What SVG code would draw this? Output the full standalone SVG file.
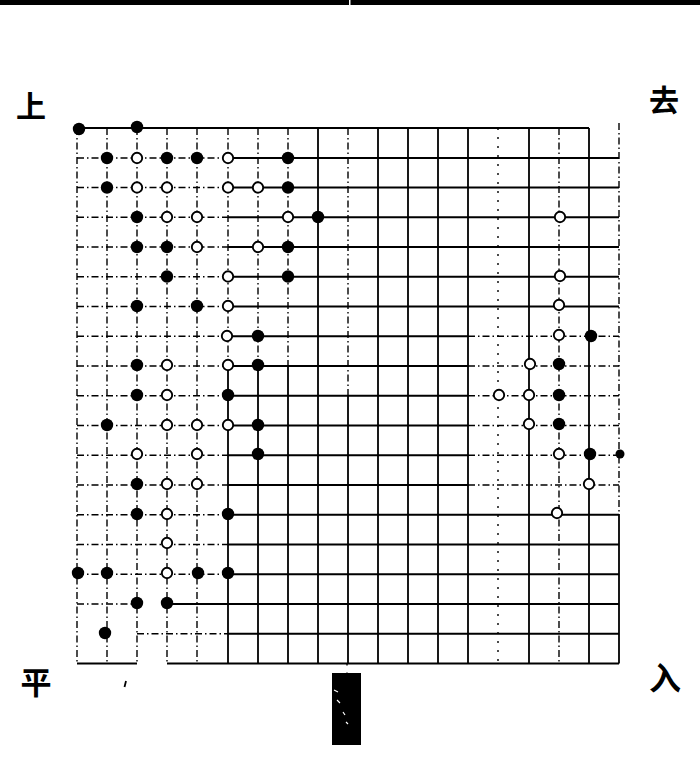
<svg xmlns="http://www.w3.org/2000/svg" width="700" height="763" viewBox="0 0 700 763">
<style>
.s{stroke:#000;stroke-width:1.8;fill:none}
.d{stroke:#000;stroke-width:1.4;fill:none;stroke-dasharray:7 3 1.5 3}
.t{stroke:#000;stroke-width:1.4;fill:none;stroke-dasharray:2 7}
.lab{font-family:"Noto Sans CJK SC","Noto Sans CJK JP",sans-serif;font-weight:700;fill:#000;text-anchor:middle}
</style>
<defs>
<circle id="b" r="6.2" fill="#000"/>
<circle id="w" r="5.2" fill="#fff" stroke="#000" stroke-width="1.9"/>
</defs>
<rect id="topbar" x="0" y="0" width="700" height="5" fill="#000"/>
<rect x="349" y="0" width="1.5" height="5" fill="#fff"/>
<g id="grid">
<!-- horizontal lines -->
<path class="s" d="M77 128H589"/>
<path class="d" d="M77 158H228M77 187.5H228M77 217.25H228M77 247H228M77 276.75H228M77 306.5H228M77 336.25H228M77 366H228M77 395.75H228M77 425.5H228M77 455.25H228M77 485H228M77 514.75H228M77 544.5H228M77 574.25H228M77 604H137M137 633.75H228"/>
<path class="s" d="M228 158H619M228 187.5H619M228 217.25H619M228 247H619M228 276.75H619M228 306.5H619M228 336.25H468M228 366H468M228 395.75H468M228 425.5H468M228 455.25H468M228 485H468M228 514.75H619M228 544.5H619M228 574.25H619M167 604H619M228 633.75H619M77 663.5H137M167 663.5H619"/>
<path class="d" d="M468 336.25H619M468 366H619M468 395.75H619M468 425.5H619M468 455.25H619M468 485H619"/>
<!-- vertical lines -->
<path class="d" d="M77 128V663.5M107 128V663.5M137 128V663.5M167 128V663.5M197 128V663.5M228 128V366M258 128V366M288 128V366M348 128V396M559 128V663.5M619 123V514"/>
<path class="s" d="M228 366V663.5M258 366V663.5M288 366V663.5M318 128V663.5M348 396V663.5M378 128V663.5M408 128V663.5M438 128V663.5M468 128V663.5M529 128V663.5M589 128V663.5M619 514V663.5"/>
<path class="t" d="M498 128V663.5M347 663.5V673"/>
</g>
<g id="black-stones">
<use href="#b" x="79" y="129"/><use href="#b" x="137" y="127"/>
<use href="#b" x="107" y="158"/><use href="#b" x="167" y="158"/><use href="#b" x="197" y="158"/><use href="#b" x="288" y="158"/>
<use href="#b" x="107" y="187.5"/><use href="#b" x="288" y="187.5"/>
<use href="#b" x="137" y="217"/><use href="#b" x="318" y="217"/>
<use href="#b" x="137" y="247"/><use href="#b" x="167" y="247"/><use href="#b" x="288" y="247"/>
<use href="#b" x="167" y="276.5"/><use href="#b" x="288" y="276.5"/>
<use href="#b" x="137" y="306"/><use href="#b" x="197" y="306"/>
<use href="#b" x="258" y="336"/>
<use href="#b" x="137" y="365"/><use href="#b" x="258" y="365"/>
<use href="#b" x="137" y="395"/><use href="#b" x="228" y="395"/>
<use href="#b" x="107" y="425"/><use href="#b" x="258" y="425"/>
<use href="#b" x="258" y="454"/>
<use href="#b" x="137" y="484"/>
<use href="#b" x="137" y="514"/><use href="#b" x="228" y="514"/>
<use href="#b" x="78" y="573"/><use href="#b" x="107" y="573"/><use href="#b" x="198" y="573"/><use href="#b" x="228" y="573"/>
<use href="#b" x="137" y="603"/><use href="#b" x="167" y="603"/>
<use href="#b" x="105" y="633"/>
<use href="#b" x="591" y="336"/>
<use href="#b" x="559" y="364"/><use href="#b" x="559" y="395"/><use href="#b" x="559" y="424"/>
<use href="#b" x="590" y="454"/>
<circle cx="620" cy="454" r="4.5" fill="#000"/>
</g>
<g id="white-stones">
<use href="#w" x="137" y="158"/><use href="#w" x="228" y="158"/>
<use href="#w" x="137" y="187.5"/><use href="#w" x="167" y="187.5"/><use href="#w" x="228" y="187.5"/><use href="#w" x="258" y="187.5"/>
<use href="#w" x="167" y="217"/><use href="#w" x="197" y="217"/><use href="#w" x="288" y="217"/>
<use href="#w" x="197" y="247"/><use href="#w" x="258" y="247"/>
<use href="#w" x="228" y="276.5"/>
<use href="#w" x="228" y="306"/>
<use href="#w" x="227" y="336"/>
<use href="#w" x="167" y="365"/><use href="#w" x="228" y="365"/>
<use href="#w" x="167" y="395"/>
<use href="#w" x="167" y="425"/><use href="#w" x="197" y="425"/><use href="#w" x="228" y="425"/>
<use href="#w" x="137" y="454"/><use href="#w" x="197" y="454"/>
<use href="#w" x="167" y="484"/><use href="#w" x="197" y="484"/>
<use href="#w" x="167" y="514"/>
<use href="#w" x="167" y="543"/>
<use href="#w" x="167" y="573"/>
<use href="#w" x="560" y="217"/>
<use href="#w" x="560" y="276"/>
<use href="#w" x="559" y="305"/>
<use href="#w" x="559" y="335"/>
<use href="#w" x="530" y="364"/>
<use href="#w" x="499" y="395"/><use href="#w" x="529" y="395"/>
<use href="#w" x="529" y="424"/>
<use href="#w" x="559" y="454"/>
<use href="#w" x="589" y="484"/>
<use href="#w" x="557" y="513"/>
</g>
<g id="labels">
<text class="lab" x="31" y="117" font-size="30">上</text>
<text class="lab" x="664" y="111" font-size="30">去</text>
<text class="lab" x="36" y="694" font-size="31">平</text>
<text class="lab" x="665" y="690" font-size="32">入</text>
</g>
<g id="marks">
<rect x="332" y="673" width="29" height="72" fill="#000"/>
<path d="M334 690l4 2M337 700l3 3M343 712l2 3M346 722l2 2" stroke="#fff" stroke-width="1.2"/>
<path d="M126 681l-1.5 6" stroke="#000" stroke-width="1.8"/>
</g>
</svg>
